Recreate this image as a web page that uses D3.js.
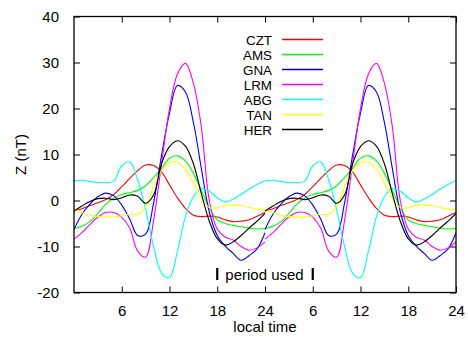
<!DOCTYPE html>
<html>
<head>
<meta charset="utf-8">
<script src="https://cdn.jsdelivr.net/npm/d3@7"></script>
<style>
  html, body { margin: 0; padding: 0; background: #fff; }
  svg { display: block; font-family: "Liberation Sans", Arial, sans-serif; }
</style>
</head>
<body>
<svg id="chart" width="468" height="338"></svg>
<script>
// ---- data (one day, local time hours 0..24; plotted for two consecutive days) ----
const hours = [0,1,2,3,4,5,6,7,8,9,10,11,12,13,14,15,16,17,18,19,20,21,22,23,24];
const stations = ["CZT","AMS","GNA","LRM","ABG","TAN","HER"];
const colors = ["#ff0000","#00ff00","#0000ff","#ff00ff","#00ffff","#ffff00","#000000"];
const CZT = [-2.3,-1.8,-1.1,-0.5,0.2,1.3,3.0,4.8,6.5,7.7,7.6,6.2,3.4,0.6,-1.7,-3.2,-3.5,-3.4,-3.6,-4.2,-4.6,-4.5,-4.2,-3.4,-2.6];
const AMS = [-6.1,-5.6,-4.6,-2.8,-0.8,0.5,1.3,1.7,2.2,3.2,5.0,7.0,9.2,9.7,8.6,5.9,2.2,-1.5,-4.2,-5.0,-5.4,-5.7,-6.0,-6.2,-6.1];
const GNA = [-6.3,-3.0,-0.8,0.8,1.6,1.0,-1.0,-4.0,-7.6,-7.3,-0.5,9.8,19.0,25.0,23.6,17.0,7.0,-2.5,-7.6,-9.9,-11.5,-13.0,-12.0,-10.5,-7.0];
const LRM = [-8.4,-7.0,-5.2,-3.6,-2.6,-2.6,-3.6,-6.0,-11.0,-12.3,-4.3,8.0,20.0,27.5,29.8,25.5,16.0,0.0,-6.2,-8.0,-8.6,-10.0,-10.8,-10.3,-9.0];
const ABG = [4.3,4.4,4.1,3.9,3.9,4.2,7.5,8.4,4.5,-2.0,-10.0,-15.8,-16.8,-11.0,-3.5,0.8,2.6,2.0,0.6,-0.3,0.3,1.3,2.5,3.5,4.3];
const TAN = [-2.0,-2.6,-3.2,-3.5,-3.6,-3.6,-3.3,-3.0,-3.0,-1.3,3.0,6.5,8.2,8.3,6.8,3.8,0.5,-1.5,-1.6,-1.0,-1.0,-1.1,-1.5,-1.9,-2.0];
const HER = [-2.3,-1.2,-0.2,0.4,0.5,0.2,0.6,1.2,0.9,-0.6,1.2,8.0,11.7,13.0,11.8,8.0,1.5,-4.5,-8.3,-9.7,-9.0,-7.6,-6.0,-4.5,-2.8];
const seriesValues = [CZT, AMS, GNA, LRM, ABG, TAN, HER];
const dayOffsets = [0, 24];
const xTickValues = [6,12,18,24,30,36,42,48];
const xTickLabels = ["6","12","18","24","6","12","18","24"];
const yTickValues = [-20,-10,0,10,20,30,40];
const periodUsed = [18, 30];

// ---- layout ----
const svg = d3.select("#chart");
const m = {left: 74, right: 456, top: 16.5, bottom: 292.5};
const x = d3.scaleLinear().domain([0, 48]).range([m.left, m.right]);
const y = d3.scaleLinear().domain([-20, 40]).range([m.bottom, m.top]);
const fs = 15;
const legFs = 13.4;

svg.append("clipPath").attr("id","clip").append("rect")
  .attr("x", m.left).attr("y", m.top).attr("width", m.right - m.left).attr("height", m.bottom - m.top);

const gBottom = svg.append("g").attr("transform", `translate(0,${m.bottom})`)
  .call(d3.axisBottom(x).tickValues(xTickValues).tickSize(-6).tickPadding(13)
        .tickFormat((d,i) => xTickLabels[i]));
const gTop = svg.append("g").attr("transform", `translate(0,${m.top})`)
  .call(d3.axisTop(x).tickValues(xTickValues).tickSize(-6).tickFormat(""));
const gLeft = svg.append("g").attr("transform", `translate(${m.left},0)`)
  .call(d3.axisLeft(y).tickValues(yTickValues).tickSize(-6).tickPadding(15)
        .tickFormat(d => String(d)));
const gRight = svg.append("g").attr("transform", `translate(${m.right},0)`)
  .call(d3.axisRight(y).tickValues(yTickValues).tickSize(-6).tickFormat(""));
[gBottom, gTop, gLeft, gRight].forEach(g => {
  g.select(".domain").remove();
  g.selectAll(".tick line").attr("stroke", "#000").attr("stroke-width", 1);
  g.selectAll("text").attr("font-size", fs).attr("fill", "#000")
    .attr("font-family", "Liberation Sans, Arial, sans-serif");
});

const lineGen = d3.line().x(d => x(d[0])).y(d => y(d[1])).curve(d3.curveCatmullRom.alpha(0.5));
const plot = svg.append("g").attr("clip-path", "url(#clip)");
seriesValues.forEach((vals, si) => {
  dayOffsets.forEach(off => {
    plot.append("path")
      .attr("d", lineGen(hours.map((h, i) => [h + off, vals[i]])))
      .attr("fill", "none").attr("stroke", colors[si]).attr("stroke-width", 1.1);
  });
});

svg.append("rect").attr("x", m.left).attr("y", m.top)
  .attr("width", m.right - m.left).attr("height", m.bottom - m.top)
  .attr("fill", "none").attr("stroke", "#000").attr("stroke-width", 1.3);

const leg = svg.append("g");
stations.forEach((s, i) => {
  const yy = 39.5 + i * 15;
  leg.append("text").attr("x", 272).attr("y", yy + 5).attr("text-anchor", "end")
    .attr("font-size", legFs).attr("fill", "#000")
    .attr("textLength", s.length * 0).text(s);
  leg.append("line").attr("x1", 282).attr("x2", 323).attr("y1", yy).attr("y2", yy)
    .attr("stroke", colors[i]).attr("stroke-width", 1.3);
});
leg.selectAll("text").attr("textLength", null);

periodUsed.forEach(h => {
  svg.append("line").attr("x1", x(h)).attr("x2", x(h)).attr("y1", 268).attr("y2", 280)
    .attr("stroke", "#000").attr("stroke-width", 2.2);
});
svg.append("text").attr("x", 264.5).attr("y", 279.5)
  .attr("text-anchor", "middle").attr("font-size", fs).text("period used");

svg.append("text").attr("x", (m.left + m.right) / 2).attr("y", 332)
  .attr("text-anchor", "middle").attr("font-size", fs).text("local time");
svg.append("text").attr("transform", `translate(26,${(m.top + m.bottom) / 2}) rotate(-90)`)
  .attr("text-anchor", "middle").attr("font-size", fs).text("Z (nT)");
</script>
</body>
</html>
